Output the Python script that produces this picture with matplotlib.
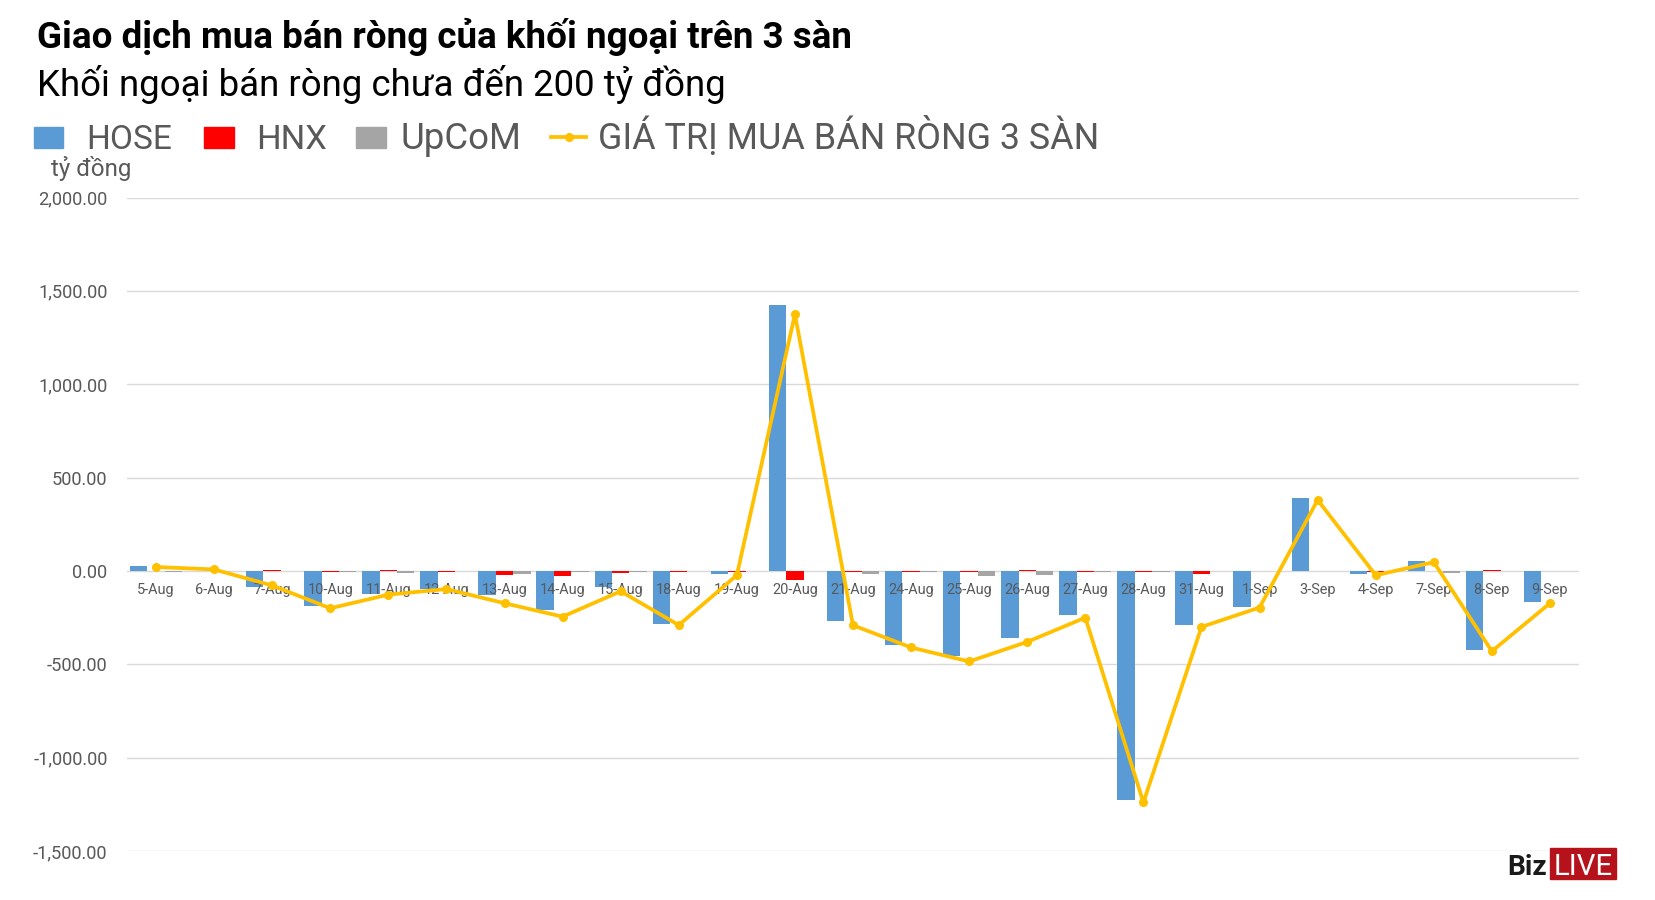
import matplotlib
matplotlib.use("Agg")
import matplotlib.pyplot as plt
import numpy as np
from matplotlib.ticker import FuncFormatter
from matplotlib.patches import Rectangle
from matplotlib.lines import Line2D

# ---------------- data ----------------
categories = ['5-Aug', '6-Aug', '7-Aug', '10-Aug', '11-Aug', '12-Aug', '13-Aug', '14-Aug',
              '15-Aug', '18-Aug', '19-Aug', '20-Aug', '21-Aug', '24-Aug', '25-Aug', '26-Aug',
              '27-Aug', '28-Aug', '31-Aug', '1-Sep', '3-Sep', '4-Sep', '7-Sep', '8-Sep', '9-Sep']
hose = [25, 2, -86, -188, -125, -98, -130, -209, -86, -284, -18, 1425, -268, -395, -455,
        -359, -236, -1225, -289, -193, 390, -16, 52, -425, -166]
hnx = [-3, 0, 7, -4, 3, -4, -22, -27, -10, -6, -4, -50, -4, -4, -4, 3, -4, -8, -18, -3,
       -3, -8, -3, 3, -3]
upcom = [-5, -3, -3, -5, -12, -3, -18, -5, -8, -3, -2, -3, -16, -8, -25, -20, -8, -4, -3,
         -3, -3, -3, -10, -3, -3]
net_total = [21, 8, -78, -200, -127, -97, -173, -245, -109, -290, -23, 1375, -291, -410,
             -485, -380, -250, -1240, -300, -196, 380, -23, 47, -430, -173]
y_ticks = [-1500, -1000, -500, 0, 500, 1000, 1500, 2000]

series_names = ['HOSE', 'HNX', 'UpCoM', 'GIÁ TRỊ MUA BÁN RÒNG 3 SÀN']
title = 'Giao dịch mua bán ròng của khối ngoại trên 3 sàn'
subtitle = 'Khối ngoại bán ròng chưa đến 200 tỷ đồng'
unit_label = 'tỷ đồng'

# ---------------- style ----------------
C_HOSE = '#5B9BD5'
C_HNX = '#FF0000'
C_UP = '#A5A5A5'
C_LINE = '#FFC000'
C_TXT = '#595959'
C_GRID = '#D9D9D9'
FONT = ['Roboto', 'DejaVu Sans']
plt.rcParams['font.family'] = FONT

W, H = 1656, 900
fig = plt.figure(figsize=(W / 100, H / 100), dpi=100)
renderer = fig.canvas.get_renderer()


def fx(px):
    return px / W


def fy(py):
    return 1 - py / H


def fit(t, width):
    bb = t.get_window_extent(renderer)
    t.set_fontsize(t.get_fontsize() * width / bb.width)
    return t


ax = fig.add_axes([fx(127), fy(851), fx(1579) - fx(127), fy(197.5) - fy(851)])
n = len(categories)
x = np.arange(n)
bw = 0.30
ax.bar(x - bw, hose, bw, color=C_HOSE, zorder=1)
ax.bar(x, hnx, bw, color=C_HNX, zorder=1)
ax.bar(x + bw, upcom, bw, color=C_UP, zorder=1)
ax.plot(x, net_total, color=C_LINE, lw=2.7, marker='o', ms=5.5, zorder=3,
        solid_joinstyle='round')

ax.set_xlim(-0.5, n - 0.5)
ax.set_ylim(-1500, 2000)
ax.set_yticks(y_ticks)
ax.yaxis.set_major_formatter(FuncFormatter(lambda v, p: f'{v:,.2f}'))
ax.grid(axis='y', color=C_GRID, lw=1, zorder=0)
ax.set_axisbelow(True)
for s in ax.spines.values():
    s.set_visible(False)
ax.tick_params(axis='y', length=0, pad=14, labelcolor=C_TXT, labelsize=11.5)
ax.tick_params(axis='x', bottom=False, labelbottom=False)

# category labels next to the zero axis
for i, c in enumerate(categories):
    ax.annotate(c, xy=(i, 0), xytext=(0, -8.5), textcoords='offset points',
                ha='center', va='top', color=C_TXT, fontsize=9.5, zorder=2)
fig.canvas.draw()
ref = [t for t in ax.texts if t.get_text() == '10-Aug'][0]
bb = ref.get_window_extent(renderer)
scale = 46 / bb.width
for t in ax.texts:
    t.set_fontsize(t.get_fontsize() * scale)

# y tick label size fit
fig.canvas.draw()
lab = [l for l in ax.get_yticklabels() if l.get_text() == '1,500.00'][0]
bb = lab.get_window_extent(renderer)
ax.tick_params(axis='y', labelsize=11.5 * 70 / bb.width)

# titles
t1 = fig.text(fx(37), fy(48), title, fontsize=22, fontweight='bold', color='black',
              va='baseline', ha='left')
fit(t1, 815)
t2 = fig.text(fx(37), fy(96), subtitle, fontsize=20, color='black', va='baseline', ha='left')
fit(t2, 687)

# legend (manual)
leg_y_base = 149
sq_top, sq_bot = 127, 148
for (x0, x1), col in zip([(34, 63), (204, 234), (356, 386)], [C_HOSE, C_HNX, C_UP]):
    fig.patches.append(Rectangle((fx(x0), fy(sq_bot)), fx(x1) - fx(x0), fy(sq_top) - fy(sq_bot),
                                 transform=fig.transFigure, color=col))
fig.lines.append(Line2D([fx(551), fx(586)], [fy(137), fy(137)], transform=fig.transFigure,
                        color=C_LINE, lw=2.7))
fig.lines.append(Line2D([fx(568.5)], [fy(137)], transform=fig.transFigure, color=C_LINE,
                        marker='o', ms=5.5))
for name, x0, wd in zip(series_names, [86.6, 256.6, 401, 597.7], [85.5, 70.7, 121, 500.5]):
    t = fig.text(fx(x0), fy(leg_y_base), name, fontsize=22, color=C_TXT, va='baseline', ha='left')
    fit(t, wd)

# unit label
tu = fig.text(fx(51), fy(176), unit_label, fontsize=14, color=C_TXT, va='baseline', ha='left')
fit(tu, 81)

# logo
fig.patches.append(Rectangle((fx(1550), fy(879)), fx(1616) - fx(1550), fy(848) - fy(879),
                             transform=fig.transFigure, color='#B5121B'))
tb = fig.text(fx(1507), fy(875), 'Biz', fontsize=18, fontweight='bold', color='#1a1a1a',
              va='baseline', ha='left')
fit(tb, 40)
tl = fig.text(fx(1583), fy(875), 'LIVE', fontsize=18, color='white', va='baseline', ha='center')
fit(tl, 59)

fig.savefig('out.png', dpi=100, facecolor='white')
